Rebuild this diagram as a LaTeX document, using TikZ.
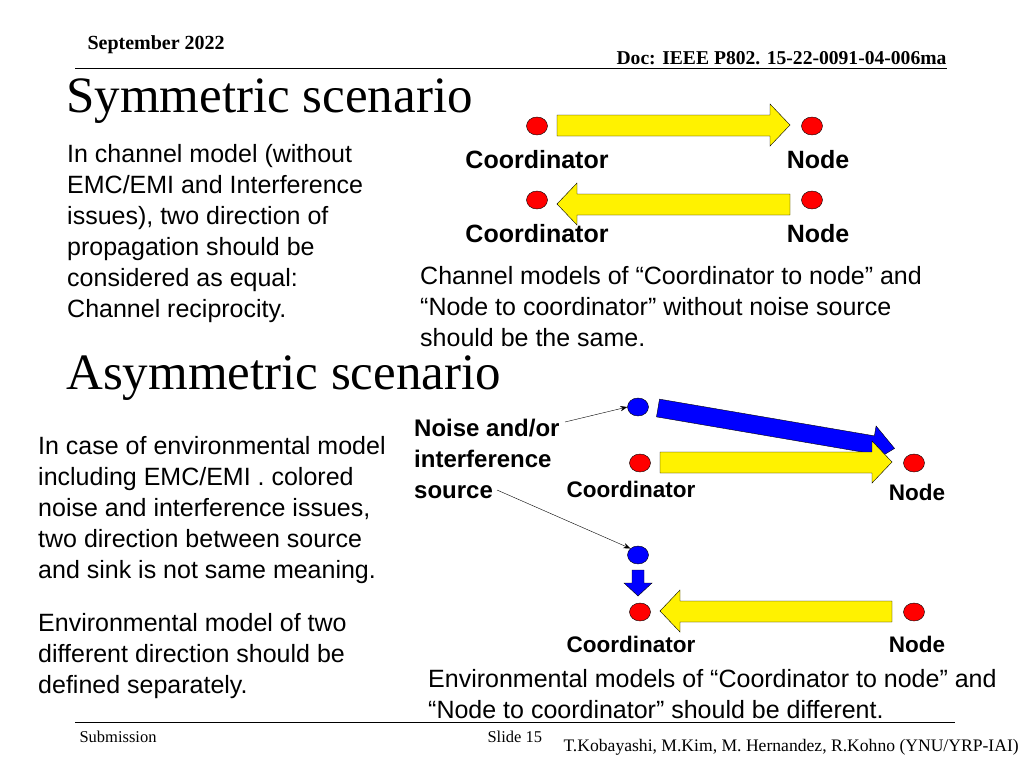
\documentclass[tikz,border=0pt]{standalone}
\usepackage{fontspec}
\setmainfont{Liberation Sans}
\newfontfamily\serif{Liberation Serif}
\usetikzlibrary{arrows.meta,shapes.geometric}
\begin{document}
\begin{tikzpicture}[x=1pt,y=-1pt,
  dot/.style={ellipse,draw=black,fill=red,minimum width=21pt,minimum height=18pt,inner sep=0pt},
  bdot/.style={dot,fill=blue},
  body/.style={font=\fontsize{25}{31}\selectfont,anchor=north west,align=left,inner sep=0pt},
  lab/.style={font=\bfseries\fontsize{25}{29}\selectfont,inner sep=0pt},
  slab/.style={font=\bfseries\fontsize{22.5}{26}\selectfont,inner sep=0pt},
  title/.style={font=\serif\fontsize{51}{55}\selectfont,anchor=west,inner sep=0pt},
  foot/.style={font=\serif\fontsize{16.5}{19}\selectfont,anchor=west},
  yarr/.style={draw=black,fill=yellow},
  barr/.style={draw=black,fill=blue}]
\useasboundingbox (0,0) rectangle (1024,768);
\node[font=\serif\bfseries\fontsize{20}{22}\selectfont,anchor=west] (date) at (84,45) {September 2022};
\node[font=\serif\bfseries\fontsize{19.6}{22}\selectfont,anchor=east] (doc) at (950,58) {Doc: IEEE P802. 15-22-0091-04-006ma};
\draw[line width=1pt] (75,68) -- (947,68);
\node[title] (t1) at (66,101) {Symmetric scenario};
\node[body] (l1) at (67,144) {In channel model (without\\EMC/EMI and Interference\\issues), two direction of\\propagation should be\\considered as equal:\\Channel reciprocity.};
% symmetric
\node[dot] (c1) at (537,126) {};
\node[dot] (n1) at (812,126) {};
\node[dot] (c2) at (537,200) {};
\node[dot] (n2) at (812,200) {};
\draw[yarr] (557,115)--(770,115)--(770,104)--(790,125)--(770,146)--(770,136)--(557,136)--cycle;
\draw[yarr] (790,194)--(577,194)--(577,183)--(557,204)--(577,225)--(577,215)--(790,215)--cycle;
\node[lab] (cl1) at (537,160) {Coordinator};
\node[lab] (nl1) at (818,160) {Node};
\node[lab] (cl2) at (537,234) {Coordinator};
\node[lab] (nl2) at (818,234) {Node};
\node[body] (s1) at (420,266) {Channel models of “Coordinator to node” and\\“Node to coordinator” without noise source\\should be the same.};
% asymmetric
\node[title] (t2) at (66,378) {Asymmetric scenario};
\node[body] (l2) at (38,436) {In case of environmental model\\including EMC/EMI . colored\\noise and interference issues,\\two direction between source\\and sink is not same meaning.};
\node[body] (l3) at (38,613) {Environmental model of two\\different direction should be\\defined separately.};
\node[bdot] (b1) at (638,407) {};
\node[bdot] (b2) at (638,555) {};
\node[dot] (c3) at (640,463) {};
\node[dot] (n3) at (914,463) {};
\node[dot] (c4) at (640,612) {};
\node[dot] (n4) at (914,612) {};
\begin{scope}[shift={(658,408)},rotate=-9.7]
\draw[barr] (0,-9)--(218,-9)--(218,-19)--(240,0)--(218,19)--(218,9)--(0,9)--cycle;
\end{scope}
\draw[yarr] (660,452)--(872,452)--(872,441)--(892,462)--(872,483)--(872,473)--(660,473)--cycle;
\draw[yarr] (892,601)--(680,601)--(680,590)--(660,611)--(680,632)--(680,622)--(892,622)--cycle;
\draw[barr] (632,570)--(644,570)--(644,583)--(652,583)--(638,596)--(624,583)--(632,583)--cycle;
\node[lab,align=left,anchor=north west,font=\bfseries\fontsize{24}{31}\selectfont] (ns) at (414,419) {Noise and/or\\interference\\source};
\node[slab] (cl3) at (631,489) {Coordinator};
\node[slab] (nl3) at (917,492) {Node};
\node[slab] (cl4) at (631,644) {Coordinator};
\node[slab] (nl4) at (917,644) {Node};
\coordinate (p1) at (565,422);
\coordinate (p2) at (497,490);
\draw[-{Stealth[length=7pt]},thin] (p1) -- (b1.west);
\draw[-{Stealth[length=7pt]},thin] (p2) -- (b2.north west);
\node[body] (s2) at (428,669) {Environmental models of “Coordinator to node” and\\“Node to coordinator” should be different.};
\draw[line width=1pt] (75,722) -- (955,722);
\node[foot] (sub) at (76,737) {Submission};
\node[foot] (sl) at (484,737) {Slide 15};
\node[font=\serif\fontsize{17.6}{20}\selectfont,anchor=west] (au) at (560,747) {T.Kobayashi, M.Kim, M. Hernandez, R.Kohno (YNU/YRP-IAI)};
\end{tikzpicture}
\end{document}
